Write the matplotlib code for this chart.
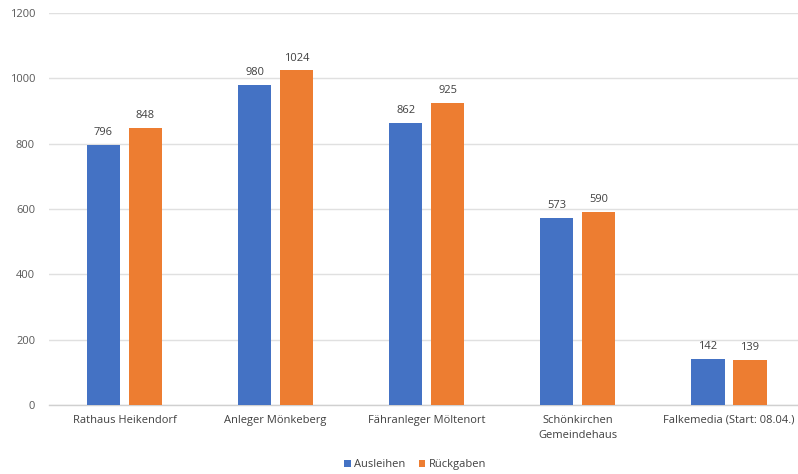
import matplotlib
matplotlib.use("Agg")
import matplotlib.pyplot as plt
import numpy as np

categories = ["Rathaus Heikendorf", "Anleger Mönkeberg", "Fähranleger Möltenort",
              "Schönkirchen\nGemeindehaus", "Falkemedia (Start: 08.04.)"]
ausleihen = [796, 980, 862, 573, 142]
rueckgaben = [848, 1024, 925, 590, 139]
yticks = [0, 200, 400, 600, 800, 1000, 1200]

plt.rcParams['font.family'] = ['Open Sans', 'DejaVu Sans']

fig = plt.figure(figsize=(7.98, 4.74), dpi=100)
ax = fig.add_axes([0.0614, 0.1456, 0.9386, 0.827])

x = np.arange(len(categories))
w = 0.22
off = 0.139
blue = "#4472C4"
orange = "#ED7D31"
b1 = ax.bar(x - off, ausleihen, w, color=blue, label="Ausleihen", zorder=3)
b2 = ax.bar(x + off, rueckgaben, w, color=orange, label="Rückgaben", zorder=3)

for bars, vals in ((b1, ausleihen), (b2, rueckgaben)):
    for r, v in zip(bars, vals):
        ax.annotate(str(v), (r.get_x() + r.get_width() / 2, v), xytext=(0, 5),
                    textcoords="offset points", ha="center", va="bottom",
                    fontsize=8, color="#404040")

ax.set_xlim(-0.5, 4.457)
ax.set_ylim(0, 1200)
ax.set_yticks(yticks)
ax.set_yticklabels([str(t) for t in yticks], fontsize=8, color="#595959")
ax.set_xticks(x)
ax.set_xticklabels(categories, fontsize=8, color="#404040", linespacing=1.5)
ax.tick_params(axis='both', length=0)
ax.tick_params(axis='y', pad=10)
ax.tick_params(axis='x', pad=7)
ax.grid(axis='y', color="#E0E0E0", linewidth=1, zorder=0)
for s in ["top", "right", "left"]:
    ax.spines[s].set_visible(False)
ax.spines["bottom"].set_color("#D0D0D0")
ax.spines["bottom"].set_linewidth(1)

fig.legend(handles=[b1, b2], loc="center", bbox_to_anchor=(0.52, 0.019),
           ncol=2, frameon=False, fontsize=8, handlelength=0.6, handleheight=0.6,
           handletextpad=0.3, columnspacing=1.2, labelcolor="#404040")

fig.savefig("out.png", dpi=100)
